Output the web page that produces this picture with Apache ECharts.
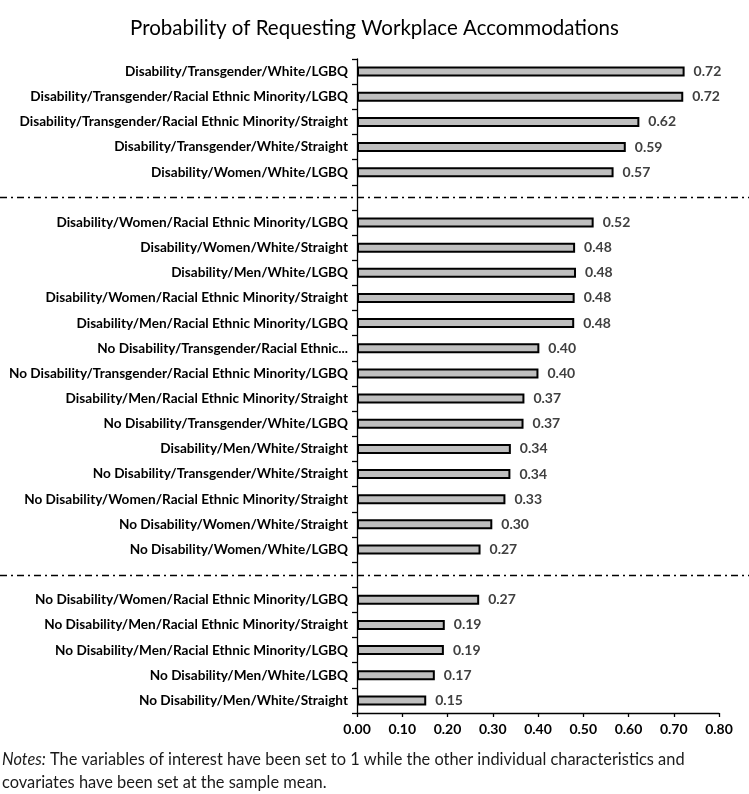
<!DOCTYPE html>
<html><head><meta charset="utf-8">
<script src="https://cdn.jsdelivr.net/npm/echarts@6/dist/echarts.min.js"></script>
<style>html,body{margin:0;padding:0;background:#fff}#c{width:749px;height:794px}</style>
</head><body><div id="c"></div>
<script>
// '' and ' ' are the empty separator slots
const categories = [
  'Disability/Transgender/White/LGBQ',
  'Disability/Transgender/Racial Ethnic Minority/LGBQ',
  'Disability/Transgender/Racial Ethnic Minority/Straight',
  'Disability/Transgender/White/Straight',
  'Disability/Women/White/LGBQ',
  '',
  'Disability/Women/Racial Ethnic Minority/LGBQ',
  'Disability/Women/White/Straight',
  'Disability/Men/White/LGBQ',
  'Disability/Women/Racial Ethnic Minority/Straight',
  'Disability/Men/Racial Ethnic Minority/LGBQ',
  'No Disability/Transgender/Racial Ethnic...',
  'No Disability/Transgender/Racial Ethnic Minority/LGBQ',
  'Disability/Men/Racial Ethnic Minority/Straight',
  'No Disability/Transgender/White/LGBQ',
  'Disability/Men/White/Straight',
  'No Disability/Transgender/White/Straight',
  'No Disability/Women/Racial Ethnic Minority/Straight',
  'No Disability/Women/White/Straight',
  'No Disability/Women/White/LGBQ',
  ' ',
  'No Disability/Women/Racial Ethnic Minority/LGBQ',
  'No Disability/Men/Racial Ethnic Minority/Straight',
  'No Disability/Men/Racial Ethnic Minority/LGBQ',
  'No Disability/Men/White/LGBQ',
  'No Disability/Men/White/Straight'
];
const values = [
  0.724, 0.721, 0.624, 0.594, 0.567,
  null,
  0.523, 0.482, 0.484, 0.481, 0.480, 0.403, 0.401, 0.370, 0.368, 0.340, 0.339, 0.328, 0.299, 0.273,
  null,
  0.270, 0.194, 0.192, 0.172, 0.153
];
const separatorSlots = [5, 20];
const xMin = 0, xMax = 0.8, xStep = 0.1;
const titleText = 'Probability of Requesting Workplace Accommodations';
const notesLines = ['{i|Notes:} The variables of interest have been set to 1 while the other individual characteristics and', 'covariates have been set at the sample mean.'];

const chart = echarts.init(document.getElementById('c'));
const FONT = 'Lato';
chart.setOption({
  animation: false,
  textStyle: { fontFamily: FONT },
  title: { text: titleText, left: 'center', top: 13,
    textStyle: { fontFamily: FONT, fontSize: 20.5, fontWeight: 'normal', color: '#000' } },
  grid: { left: 357, right: 30, top: 59, height: 654, containLabel: false },
  xAxis: {
    type: 'value', min: xMin, max: xMax, interval: xStep,
    axisLine: { show: true, lineStyle: { color: '#000', width: 1.3 } },
    axisTick: { show: true, length: 4, lineStyle: { color: '#000', width: 1.3 } },
    splitLine: { show: false },
    axisLabel: { formatter: v => v.toFixed(2), color: '#000', fontWeight: 'bold', fontSize: 14, fontFamily: FONT, margin: 9 }
  },
  yAxis: {
    type: 'category', data: categories, inverse: true,
    axisLine: { show: true, lineStyle: { color: '#000', width: 1.3 } },
    axisTick: { show: true, length: 5, lineStyle: { color: '#000', width: 1.3 } },
    axisLabel: { color: '#000', fontWeight: 'bold', fontSize: 13.6, fontFamily: FONT, margin: 9, interval: 0 }
  },
  series: [{
    type: 'bar', data: values, barWidth: 10,
    itemStyle: { color: '#bfbfbf', borderColor: '#000', borderWidth: 2 },
    label: { show: true, position: 'right', distance: 9, color: '#404040', fontWeight: 'bold', fontSize: 14, fontFamily: FONT,
      formatter: p => p.value == null ? '' : p.value.toFixed(2) }
  }]
});

const seps = separatorSlots.map(i => {
  const y = Math.round(chart.convertToPixel({ yAxisIndex: 0 }, i)) + 0.5;
  return { type: 'line', shape: { x1: 0, y1: y, x2: 749, y2: y },
    style: { stroke: '#000', lineWidth: 1.3, lineDash: [7, 4, 2, 4] } };
});
seps.push({ type: 'text', left: 2, top: 748,
  style: { text: notesLines.join('\n'), fontFamily: FONT, fontSize: 16.4, lineHeight: 23, fill: '#1a1a1a',
    rich: { i: { fontStyle: 'italic', fontFamily: FONT, fontSize: 16.4, fill: '#1a1a1a' } } } });
chart.setOption({ graphic: seps });
</script></body></html>
